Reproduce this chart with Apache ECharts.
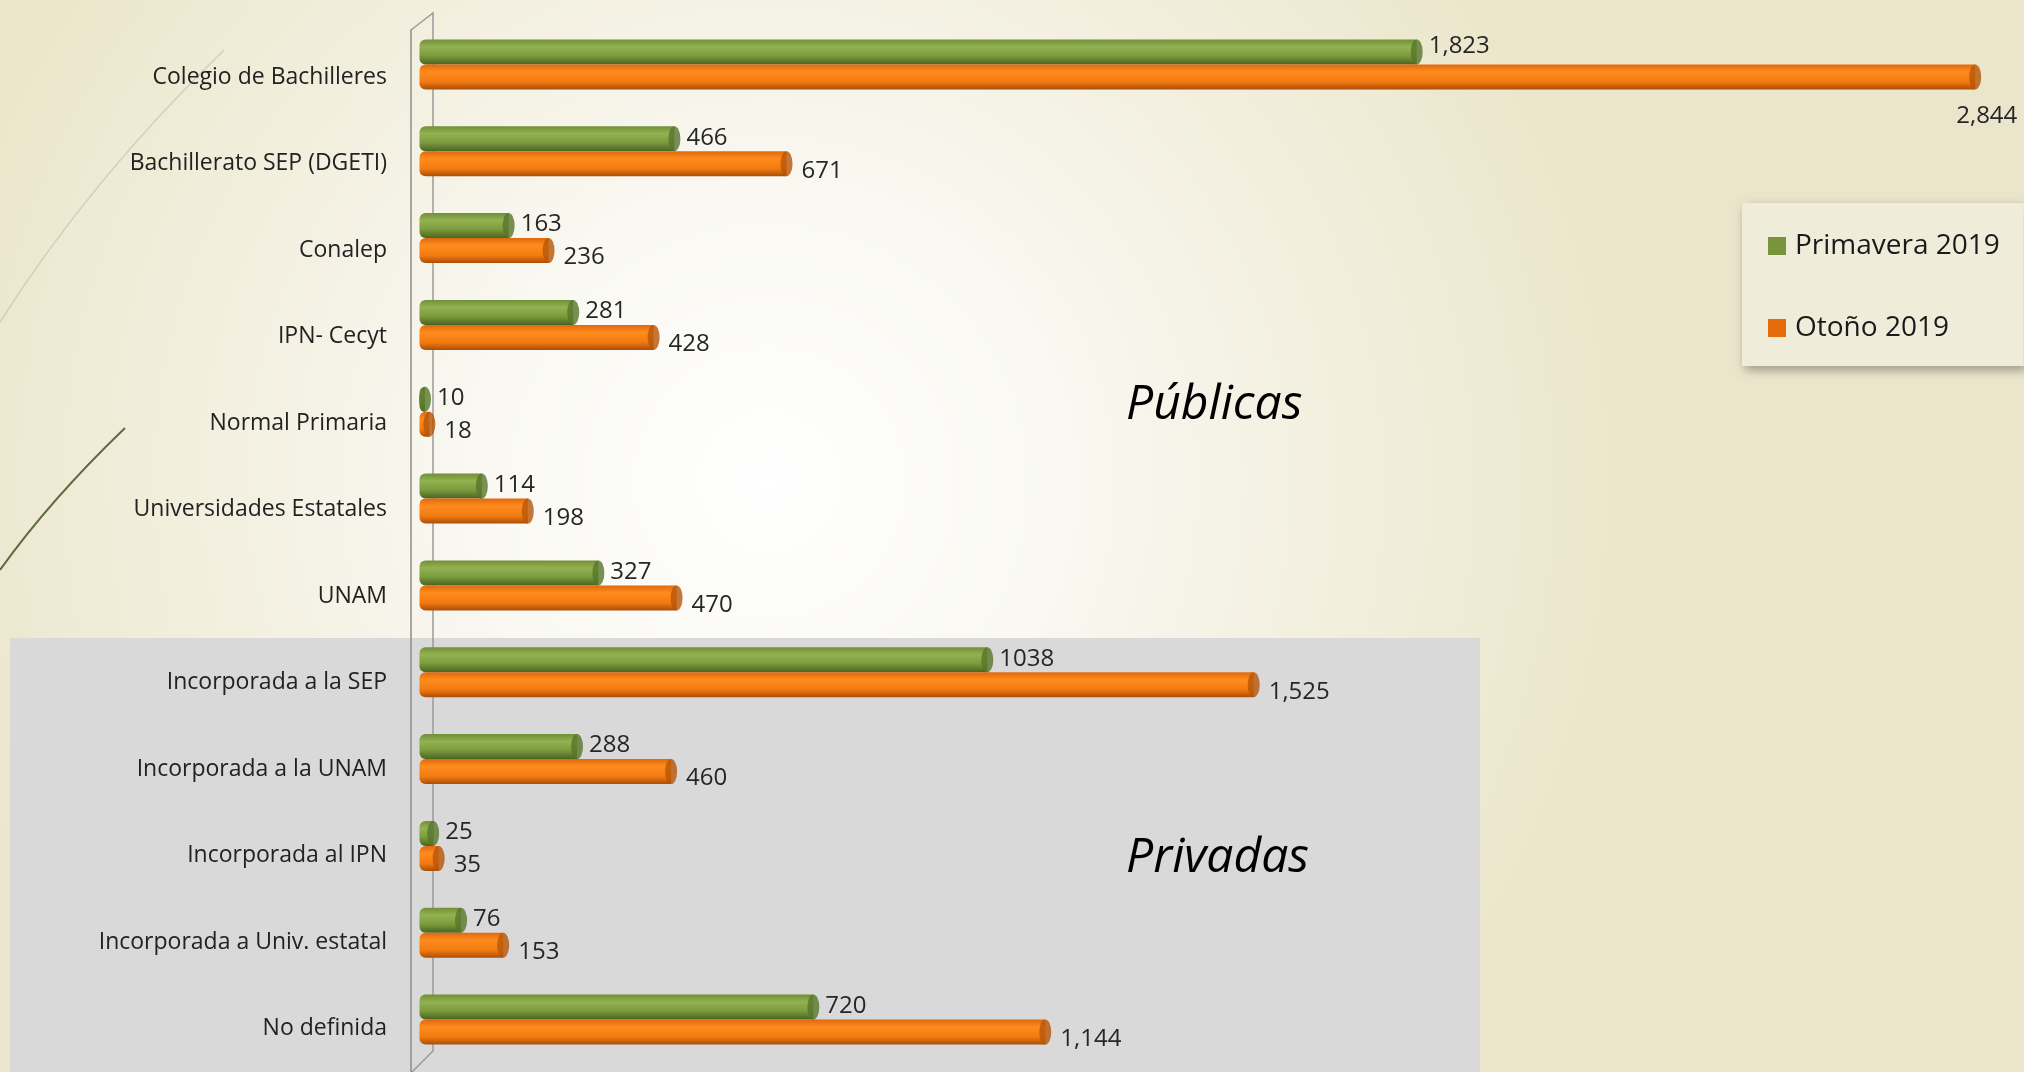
<!DOCTYPE html>
<html>
<head>
<meta charset="utf-8">
<script src="https://cdn.jsdelivr.net/npm/echarts@6/dist/echarts.min.js"></script>
<style>
  html, body { margin: 0; padding: 0; }
  #chart { width: 2024px; height: 1072px; }
</style>
</head>
<body>
<div id="chart"></div>
<script>
// datos
const categorias = [
  'Colegio de Bachilleres', 'Bachillerato SEP (DGETI)', 'Conalep', 'IPN- Cecyt',
  'Normal Primaria', 'Universidades Estatales', 'UNAM', 'Incorporada a la SEP',
  'Incorporada a la UNAM', 'Incorporada al IPN', 'Incorporada a Univ. estatal', 'No definida'
];
const primavera = [1823, 466, 163, 281, 10, 114, 327, 1038, 288, 25, 76, 720];
const otono = [2844, 671, 236, 428, 18, 198, 470, 1525, 460, 35, 153, 1144];
const series1 = 'Primavera 2019';
const series2 = 'Otoño 2019';

const font = 'Open Sans';
let myChart = echarts.init(document.getElementById('chart'));

const grad = (stops) => new echarts.graphic.LinearGradient(0, 0, 0, 1,
  stops.map(([o, c]) => ({ offset: o, color: c })));

const verde = grad([[0, '#728f38'], [0.3, '#93b251'], [0.65, '#7b9b3d'], [1, '#4a6423']]);
const naranja = grad([[0, '#e0690c'], [0.3, '#ff8c1e'], [0.7, '#f27a10'], [1, '#a94e08']]);

// etiquetas con separador de miles (menos 1038, que viene sin coma)
const fmt = p => (p.seriesName === series1 && p.name === 'Incorporada a la SEP')
  ? String(p.value) : p.value.toLocaleString('en-US');

let option = {
  backgroundColor: new echarts.graphic.RadialGradient(0.38, 0.45, 0.8, [
    { offset: 0, color: '#ffffff' },
    { offset: 0.35, color: '#f9f8f1' },
    { offset: 1, color: '#ebe6cb' }
  ]),
  animation: false,
  legend: {
    orient: 'vertical',
    left: 1742,
    top: 203,
    padding: [29, 24, 24, 26],
    itemGap: 54,
    itemWidth: 18,
    itemHeight: 18,
    icon: 'rect',
    backgroundColor: '#efecd9',
    shadowBlur: 10,
    shadowColor: 'rgba(0,0,0,0.35)',
    shadowOffsetX: 3,
    shadowOffsetY: 4,
    textStyle: { fontFamily: font, fontSize: 28, color: '#1a1a1a', padding: [0, 0, 0, 4] },
    data: [
      { name: series1, itemStyle: { color: '#77933c' } },
      { name: series2, itemStyle: { color: '#e46c0a' } }
    ]
  },
  grid: [
    // barras (un poco arriba por la profundidad 3D)
    { left: 419.5, top: 21, width: 1600, height: 1042 },
    // eje frontal: linea y marcas
    { left: 411, top: 30, width: 1000, height: 1042 },
    // solo las etiquetas de categoria
    { left: 411, top: 34, width: 1000, height: 1042 }
  ],
  xAxis: [
    { gridIndex: 0, type: 'value', min: 0, max: 2925, show: false },
    { gridIndex: 1, type: 'value', show: false },
    { gridIndex: 2, type: 'value', show: false }
  ],
  yAxis: [
    { gridIndex: 0, type: 'category', data: categorias, inverse: true, show: false },
    {
      gridIndex: 1, type: 'category', data: categorias, inverse: true,
      axisLine: { lineStyle: { color: '#8c8c8c', width: 1.5 } },
      axisTick: { length: 7, lineStyle: { color: '#7f7f7f', width: 1.5 } },
      axisLabel: { show: false }
    },
    {
      gridIndex: 2, type: 'category', data: categorias, inverse: true,
      axisLine: { show: false },
      axisTick: { show: false },
      axisLabel: { margin: 24, fontFamily: font, fontSize: 23, color: '#222' }
    }
  ],
  graphic: [
    { type: 'rect', z: -1, shape: { x: 10, y: 638, width: 1470, height: 440 }, style: { fill: '#d9d9d9' } },
    { type: 'bezierCurve', z: -1, shape: { x1: 0, y1: 322, cpx1: 90, cpy1: 180, x2: 224, y2: 50 },
      style: { stroke: '#cfd0bd', lineWidth: 1.5, fill: null } },
    { type: 'bezierCurve', z: -1, shape: { x1: 0, y1: 570, cpx1: 50, cpy1: 500, x2: 125, y2: 428 },
      style: { stroke: '#5b6d3c', lineWidth: 2, fill: null } },
    // pared trasera del eje
    { type: 'polyline', z: 0, shape: { points: [[411, 30], [433, 13], [433, 1051], [411, 1073]] },
      style: { stroke: '#9a9a9a', lineWidth: 1.5, fill: null } },
    { type: 'text', left: 1126, top: 381, style: { text: 'Públicas', font: 'italic 48px "Open Sans"', fill: '#000' } },
    { type: 'text', left: 1126, top: 834, style: { text: 'Privadas', font: 'italic 48px "Open Sans"', fill: '#000' } }
  ],
  series: [{
    name: series1,
    type: 'bar',
    xAxisIndex: 0, yAxisIndex: 0,
    barWidth: 25,
    barGap: '0%',
    itemStyle: { color: verde, borderRadius: [6, 0, 0, 6] },
    label: { show: true, position: 'right', distance: 12, offset: [0, -1], formatter: fmt,
      fontFamily: font, fontSize: 24, color: '#262626' },
    data: primavera.map((v, i) => i === 0 ? { value: v, label: { offset: [0, -6] } } : v)
  }, {
    name: series2,
    type: 'bar',
    xAxisIndex: 0, yAxisIndex: 0,
    barWidth: 25,
    itemStyle: { color: naranja, borderRadius: [6, 0, 0, 6] },
    label: { show: true, position: 'right', distance: 15, offset: [0, 7], formatter: fmt,
      fontFamily: font, fontSize: 24, color: '#262626' },
    data: otono.map((v, i) => i === 0 ? { value: v, label: { offset: [-34, 39] } } : v)
  }, {
    // tapas de los cilindros
    name: 'tapa1', type: 'scatter', xAxisIndex: 0, yAxisIndex: 0, z: 3,
    symbol: 'circle', symbolSize: [12, 25], symbolOffset: [0, -12.5],
    itemStyle: { color: '#56752b' }, silent: true,
    data: primavera.map((v, i) => [v, i])
  }, {
    name: 'tapa2', type: 'scatter', xAxisIndex: 0, yAxisIndex: 0, z: 3,
    symbol: 'circle', symbolSize: [12, 25], symbolOffset: [0, 12.5],
    itemStyle: { color: '#b65507' }, silent: true,
    data: otono.map((v, i) => [v, i])
  }]
};

myChart.setOption(option);
</script>
</body>
</html>
